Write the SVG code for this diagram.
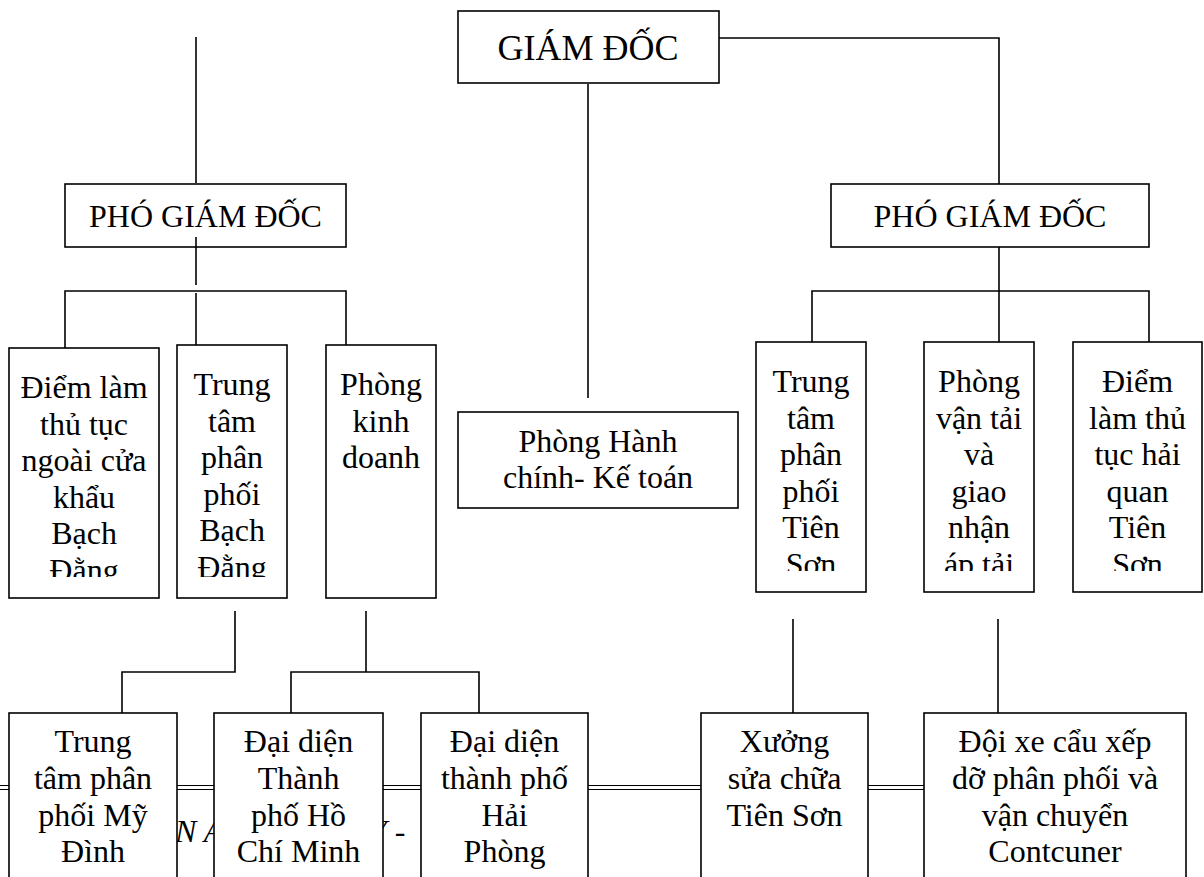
<svg xmlns="http://www.w3.org/2000/svg" width="1204" height="877" viewBox="0 0 1204 877">
  <style>
    .box { fill: #fff; stroke: #000; stroke-width: 1.6; }
    .ln { fill: none; stroke: #000; stroke-width: 1.6; }
    .dbl { fill: none; stroke: #000; stroke-width: 1.2; }
    .t { font-family: "Liberation Serif", "Times New Roman", serif; font-size: 32px; fill: #000; text-anchor: middle; }
    .big { font-size: 36px; }
    .it { font-family: "Liberation Serif", "Times New Roman", serif; font-size: 32px; font-style: italic; fill: #000; }
  </style>
  <defs>
    <clipPath id="c1"><rect x="9" y="348" width="150" height="229"/></clipPath>
    <clipPath id="c2"><rect x="177" y="345" width="110" height="232"/></clipPath>
    <clipPath id="c4"><rect x="756" y="342" width="110" height="229"/></clipPath>
    <clipPath id="c5"><rect x="924" y="342" width="110" height="229"/></clipPath>
    <clipPath id="c6"><rect x="1073" y="342" width="129" height="229"/></clipPath>
  </defs>

  <rect width="1204" height="877" fill="#fff"/>

  <!-- page rule and running footer partly covered by the bottom row -->
  <g id="footer">
    <line class="dbl" x1="0" y1="785.5" x2="1000" y2="785.5"/>
    <line class="dbl" x1="0" y1="789.5" x2="1000" y2="789.5"/>
    <text class="it" x="175" y="842">N A</text>
    <text class="it" x="369" y="842">Y - </text>
  </g>

  <g id="giam-doc">
    <rect class="box" x="458" y="11" width="261" height="72"/>
    <text class="t big" x="588" y="60">GIÁM ĐỐC</text>
  </g>

  <g id="pho-giam-doc-trai">
    <rect class="box" x="65" y="184" width="281" height="63"/>
    <text class="t" x="205.5" y="227">PHÓ GIÁM ĐỐC</text>
  </g>

  <g id="pho-giam-doc-phai">
    <rect class="box" x="831" y="184" width="318" height="63"/>
    <text class="t" x="990" y="227">PHÓ GIÁM ĐỐC</text>
  </g>

  <g id="phong-hanh-chinh">
    <rect class="box" x="458" y="412" width="280" height="96"/>
    <text class="t" x="598" y="452">Phòng Hành</text>
    <text class="t" x="598" y="488">chính- Kế toán</text>
  </g>

  <g id="diem-bach-dang">
    <rect class="box" x="9" y="348" width="150" height="250"/>
    <g clip-path="url(#c1)">
      <text class="t" x="84" y="398">Điểm làm</text>
      <text class="t" x="84" y="434.5">thủ tục</text>
      <text class="t" x="84" y="471">ngoài cửa</text>
      <text class="t" x="84" y="507.5">khẩu</text>
      <text class="t" x="84" y="544">Bạch</text>
      <text class="t" x="84" y="580.5">Đằng</text>
    </g>
  </g>

  <g id="tt-bach-dang">
    <rect class="box" x="177" y="345" width="110" height="253"/>
    <g clip-path="url(#c2)">
      <text class="t" x="232" y="395">Trung</text>
      <text class="t" x="232" y="431.5">tâm</text>
      <text class="t" x="232" y="468">phân</text>
      <text class="t" x="232" y="504.5">phối</text>
      <text class="t" x="232" y="541">Bạch</text>
      <text class="t" x="232" y="577.5">Đằng</text>
    </g>
  </g>

  <g id="phong-kinh-doanh">
    <rect class="box" x="326" y="345" width="110" height="253"/>
    <text class="t" x="381" y="395">Phòng</text>
    <text class="t" x="381" y="431.5">kinh</text>
    <text class="t" x="381" y="468">doanh</text>
  </g>

  <g id="tt-tien-son">
    <rect class="box" x="756" y="342" width="110" height="250"/>
    <g clip-path="url(#c4)">
      <text class="t" x="811" y="392">Trung</text>
      <text class="t" x="811" y="428.5">tâm</text>
      <text class="t" x="811" y="465">phân</text>
      <text class="t" x="811" y="501.5">phối</text>
      <text class="t" x="811" y="538">Tiên</text>
      <text class="t" x="811" y="574.5">Sơn</text>
    </g>
  </g>

  <g id="phong-van-tai">
    <rect class="box" x="924" y="342" width="110" height="250"/>
    <g clip-path="url(#c5)">
      <text class="t" x="979" y="392">Phòng</text>
      <text class="t" x="979" y="428.5">vận tải</text>
      <text class="t" x="979" y="465">và</text>
      <text class="t" x="979" y="501.5">giao</text>
      <text class="t" x="979" y="538">nhận</text>
      <text class="t" x="979" y="574.5">áp tải</text>
    </g>
  </g>

  <g id="diem-tien-son">
    <rect class="box" x="1073" y="342" width="129" height="250"/>
    <g clip-path="url(#c6)">
      <text class="t" x="1137.5" y="392">Điểm</text>
      <text class="t" x="1137.5" y="428.5">làm thủ</text>
      <text class="t" x="1137.5" y="465">tục hải</text>
      <text class="t" x="1137.5" y="501.5">quan</text>
      <text class="t" x="1137.5" y="538">Tiên</text>
      <text class="t" x="1137.5" y="574.5">Sơn</text>
    </g>
  </g>

  <g id="tt-my-dinh">
    <rect class="box" x="9" y="713" width="168" height="180"/>
    <text class="t" x="93" y="752">Trung</text>
    <text class="t" x="93" y="789">tâm phân</text>
    <text class="t" x="93" y="826">phối Mỹ</text>
    <text class="t" x="93" y="862">Đình</text>
  </g>

  <g id="dai-dien-hcm">
    <rect class="box" x="214" y="713" width="169" height="180"/>
    <text class="t" x="298.5" y="752">Đại diện</text>
    <text class="t" x="298.5" y="789">Thành</text>
    <text class="t" x="298.5" y="826">phố Hồ</text>
    <text class="t" x="298.5" y="862">Chí Minh</text>
  </g>

  <g id="dai-dien-hai-phong">
    <rect class="box" x="421" y="713" width="167" height="180"/>
    <text class="t" x="504.5" y="752">Đại diện</text>
    <text class="t" x="504.5" y="789">thành phố</text>
    <text class="t" x="504.5" y="826">Hải</text>
    <text class="t" x="504.5" y="862">Phòng</text>
  </g>

  <g id="xuong-sua-chua">
    <rect class="box" x="701" y="713" width="167" height="180"/>
    <text class="t" x="784.5" y="752">Xưởng</text>
    <text class="t" x="784.5" y="789">sửa chữa</text>
    <text class="t" x="784.5" y="826">Tiên Sơn</text>
  </g>

  <g id="doi-xe">
    <rect class="box" x="924" y="713" width="262" height="180"/>
    <text class="t" x="1055" y="752">Đội xe cẩu xếp</text>
    <text class="t" x="1055" y="789">dỡ phân phối và</text>
    <text class="t" x="1055" y="826">vận chuyển</text>
    <text class="t" x="1055" y="862">Contcuner</text>
  </g>

  <g id="connectors">
    <!-- director level -->
    <path class="ln" d="M196 37 V183"/>
    <path class="ln" d="M719 38 H999 V184"/>
    <path class="ln" d="M588 84 V398"/>
    <!-- left deputy branch -->
    <path class="ln" d="M196 237 V285"/>
    <path class="ln" d="M65 348 V291 H346 V345"/>
    <path class="ln" d="M196 293 V345"/>
    <!-- right deputy branch -->
    <path class="ln" d="M999 247 V342"/>
    <path class="ln" d="M812 342 V291 H1149 V342"/>
    <!-- lower level -->
    <path class="ln" d="M235 611 V672 H122 V713"/>
    <path class="ln" d="M366 611 V672"/>
    <path class="ln" d="M291 713 V672 H479 V713"/>
    <path class="ln" d="M793 619 V713"/>
    <path class="ln" d="M998 619 V713"/>
  </g>
</svg>
